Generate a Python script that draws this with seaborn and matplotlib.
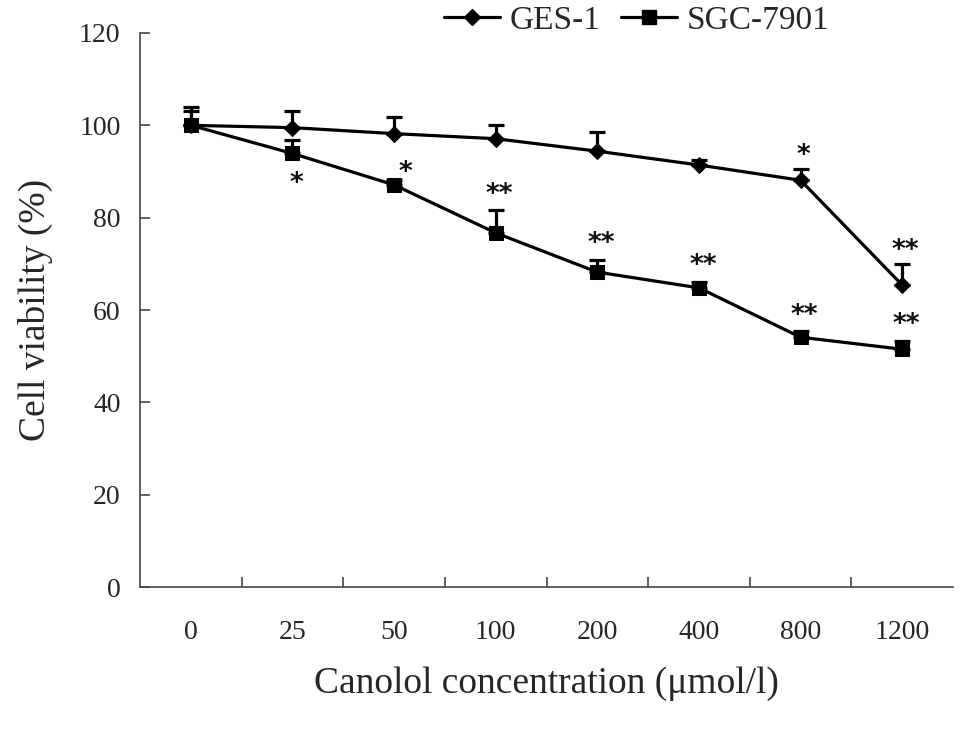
import numpy as np
import pandas as pd
import matplotlib
matplotlib.use("Agg")
import matplotlib.pyplot as plt
from matplotlib.lines import Line2D
import seaborn as sns

concentrations = ["0", "25", "50", "100", "200", "400", "800", "1200"]
ges1_mean = [100.0, 99.5, 98.2, 97.1, 94.4, 91.4, 88.1, 65.4]
ges1_err = [4.0, 3.7, 3.6, 3.0, 4.1, 1.0, 2.4, 4.5]
sgc_mean = [100.0, 93.9, 87.1, 76.7, 68.2, 64.8, 54.1, 51.5]
sgc_err = [3.0, 2.9, 1.0, 4.9, 2.6, 1.3, 1.3, 1.8]

# significance marks
ges1_sig = ["", "", "", "", "", "", "*", "**"]
sgc_sig = ["", "*", "*", "**", "**", "**", "**", "**"]

sns.set_theme(style="ticks")
plt.rcParams["font.family"] = ["Liberation Serif", "DejaVu Serif"]

df = pd.DataFrame({
    "pos": list(range(len(concentrations))) * 2,
    "viability": ges1_mean + sgc_mean,
    "err": ges1_err + sgc_err,
    "line": ["GES-1"] * len(concentrations) + ["SGC-7901"] * len(concentrations),
})

fig = plt.figure(figsize=(9.69, 7.36), dpi=100)
ax = fig.add_axes([0.1445, 0.2024, 0.8390, 0.7528])

lw = 2.3
sns.lineplot(data=df, x="pos", y="viability", hue="line", style="line",
             markers={"GES-1": "D", "SGC-7901": "s"}, dashes=False,
             palette={"GES-1": "black", "SGC-7901": "black"},
             linewidth=lw, markersize=10, markeredgecolor="black", ax=ax,
             legend=False, zorder=3)
for ln in ax.lines:
    if ln.get_marker() == "D":
        ln.set_markersize(8)

for name, sub in df.groupby("line"):
    x = sub["pos"].to_numpy()
    y = sub["viability"].to_numpy()
    e = sub["err"].to_numpy()
    ax.errorbar(x, y, yerr=[np.zeros_like(e), e], fmt="none", ecolor="black",
                elinewidth=lw, capsize=5.5, capthick=lw, zorder=2)

star_kw = dict(ha="center", va="center", fontsize=19, color="#111111",
               fontfamily="DejaVu Sans", fontweight="bold")
for i, lab in enumerate(ges1_sig):
    if lab:
        ax.text(i + 0.03, ges1_mean[i] + ges1_err[i] + 2.8, lab, **star_kw)
for i, lab in enumerate(sgc_sig):
    if not lab:
        continue
    if i == 1:
        ax.text(i + 0.04, sgc_mean[i] - 6.6, lab, **star_kw)
    elif i == 2:
        ax.text(i + 0.11, sgc_mean[i] + 2.6, lab, **star_kw)
    else:
        ax.text(i + 0.04, sgc_mean[i] + sgc_err[i] + 3.4, lab, **star_kw)

ax.set_xlim(-0.5, len(concentrations) - 0.5)
ax.set_ylim(0, 120)
ax.set_yticks(range(0, 121, 20))
ax.set_xticks(range(len(concentrations)))
ax.set_xticklabels(concentrations)
ax.set_xticks(np.arange(0.5, len(concentrations) - 0.5, 1), minor=True)
ax.tick_params(axis="x", which="major", length=0, pad=24, labelsize=20)
ax.tick_params(axis="x", which="minor", direction="in", length=7, width=1.2, color="#444444")
ax.tick_params(axis="y", direction="in", length=7, width=1.2, color="#444444",
                labelsize=20, pad=14)
for s in ["top", "right"]:
    ax.spines[s].set_visible(False)
for s in ["left", "bottom"]:
    ax.spines[s].set_color("#444444")
    ax.spines[s].set_linewidth(1.2)

ax.set_xlabel("Canolol concentration (\u03bcmol/l)", fontsize=27, labelpad=15)
ax.set_ylabel("Cell viability (%)", fontsize=27, labelpad=19)

handles = [Line2D([], [], color="black", lw=lw, marker="D", markersize=8),
           Line2D([], [], color="black", lw=lw, marker="s", markersize=10)]
ax.legend(handles, ["GES-1", "SGC-7901"], loc="center", bbox_to_anchor=(0.611, 1.022),
          ncol=2, frameon=False, fontsize=24, handlelength=1.68, handletextpad=0.3,
          columnspacing=0.6, borderpad=0)

fig.savefig("out.png", dpi=100)
